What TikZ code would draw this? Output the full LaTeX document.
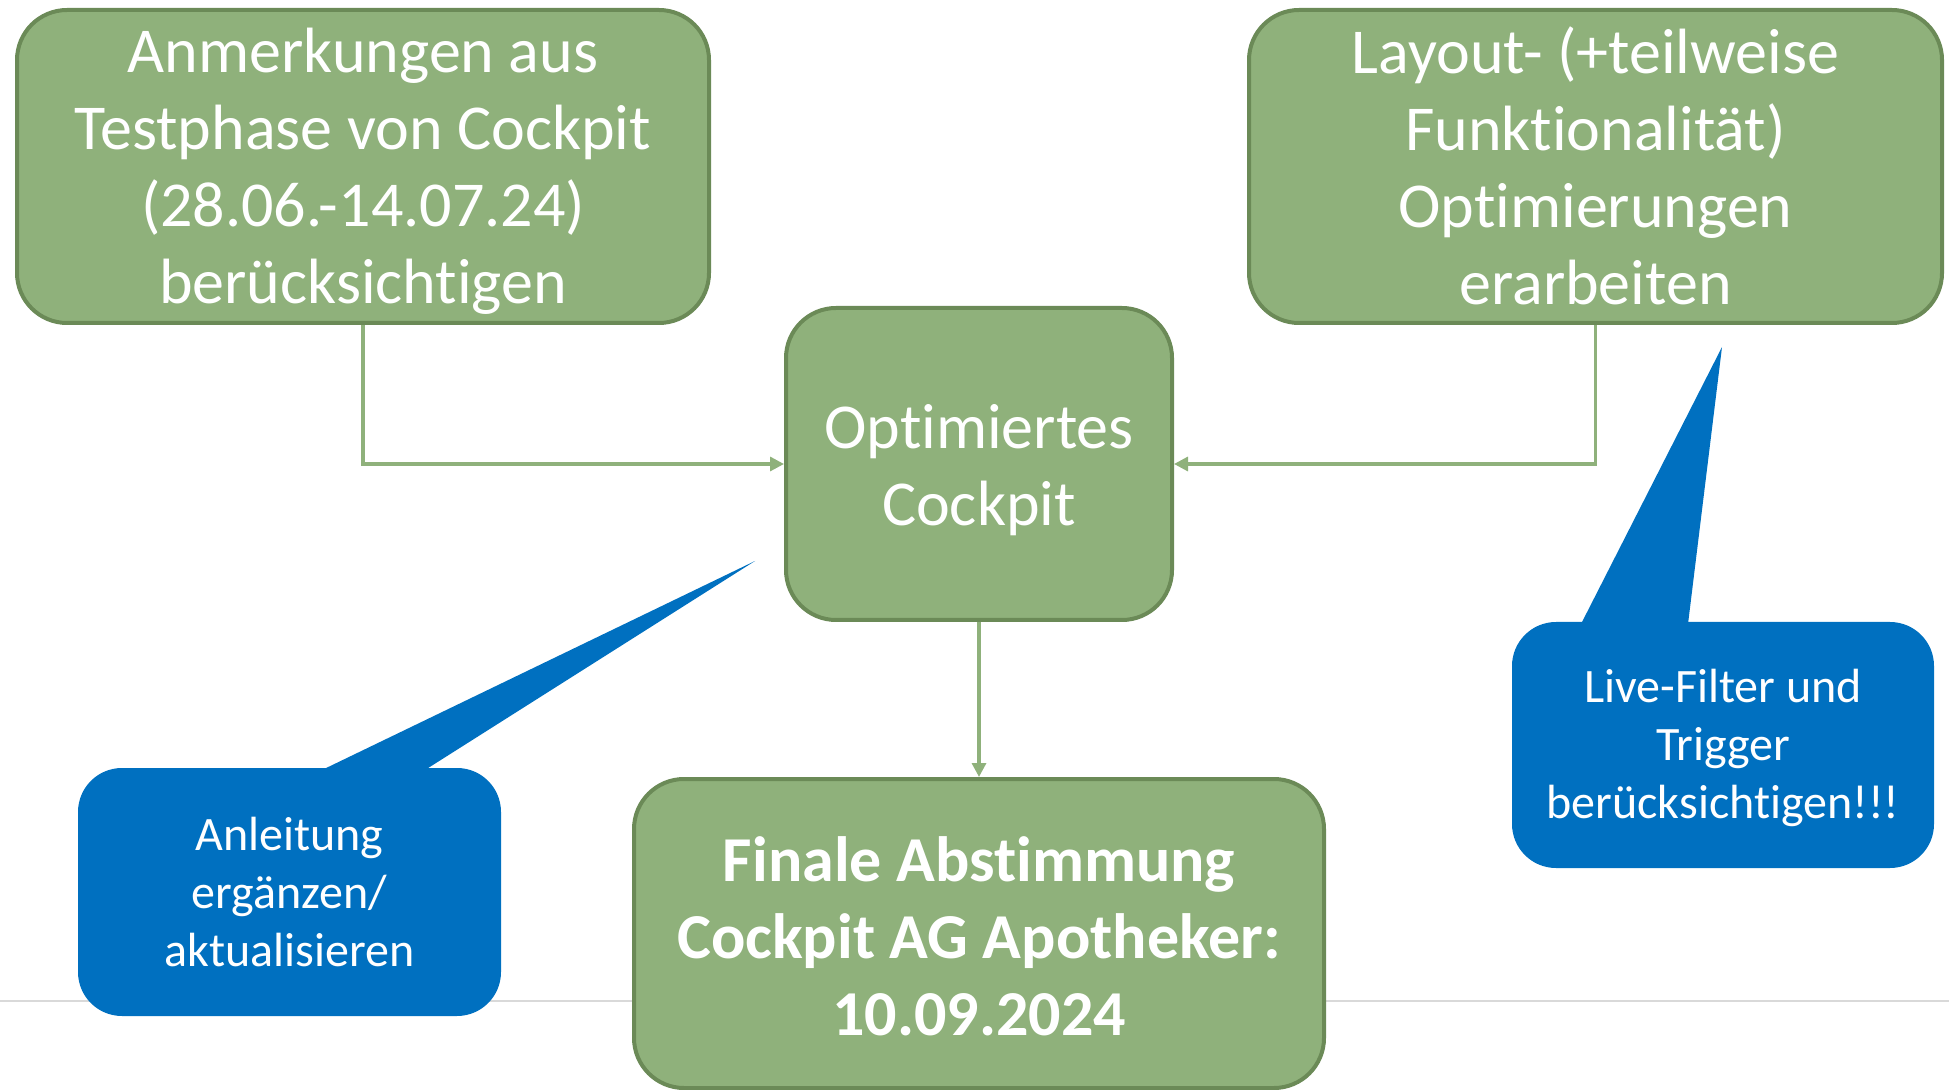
\documentclass[tikz,border=0pt]{standalone}
\usepackage{fontspec}
\setmainfont[Ligatures=CommonOff]{Carlito}
\usetikzlibrary{arrows.meta}
\definecolor{gfill}{HTML}{8FB17B}
\definecolor{gdraw}{HTML}{6B8A57}
\definecolor{gline}{HTML}{8FB17B}
\definecolor{cblue}{HTML}{0070C0}
\definecolor{lgray}{HTML}{D9D9D9}
\tikzset{
  gbox/.style={draw=gdraw, fill=gfill, line width=2pt, rounded corners=25pt, inner sep=0pt},
  gtext/.style={text=white, align=center, inner sep=0pt,
    font=\fontsize{32}{38.5}\selectfont},
  bbox/.style={fill=cblue, rounded corners=22pt, inner sep=0pt},
  btext/.style={text=white, align=center, inner sep=0pt,
    font=\fontsize{24}{29}\selectfont},
  conn/.style={draw=gline, line width=1.6pt, -{Triangle[length=7pt,width=7pt]}},
}
\begin{document}
\begin{tikzpicture}[x=0.5pt,y=-0.5pt]
\useasboundingbox (0,0) rectangle (1949,1090);
\draw[lgray, line width=1pt] (0,1001) -- (1949,1001);

\node[gbox, minimum width=692*0.5pt, minimum height=313*0.5pt] (tl) at (363,166.5) {};
\node[gtext, yshift=-2.5pt] (tlt) at (tl.center)
  {Anmerkungen aus\\Testphase von Cockpit\\(28.06.-14.07.24)\\berücksichtigen};
\node[gbox, minimum width=693*0.5pt, minimum height=313*0.5pt] (tr) at (1595.5,166.5) {};
\node[gtext, yshift=0.5pt] (trt) at (tr.center)
  {Layout- (+teilweise\\Funktionalität)\\Optimierungen\\erarbeiten};
\node[gbox, minimum width=386*0.5pt, minimum height=312*0.5pt] (c) at (979,464) {};
\node[gtext, yshift=-3pt] (ct) at (c.center) {Optimiertes\\Cockpit};
\node[gbox, minimum width=690*0.5pt, minimum height=309*0.5pt] (b) at (979,933.5) {};
\node[gtext, yshift=-1.25pt, font=\fontsize{32}{38.5}\selectfont\bfseries] (bt) at (b.center)
  {Finale Abstimmung\\Cockpit AG Apotheker:\\10.09.2024};

% callouts
\fill[cblue] (322,770) -- (755,561) -- (425,770) -- cycle;
\node[bbox, minimum width=423*0.5pt, minimum height=248*0.5pt] (bl) at (289.5,892) {};
\node[btext] (blt) at (bl.center) {Anleitung\\ergänzen/\\aktualisieren};
\fill[cblue] (1581,624) -- (1722,347) -- (1688,624) -- cycle;
\node[bbox, minimum width=422*0.5pt, minimum height=246*0.5pt] (br) at (1723,745) {};
\node[btext, yshift=-1.5pt] (brt) at (br.center) {Live-Filter und\\Trigger\\berücksichtigen!!!};

% connectors
\draw[conn] (tl.south) |- (c.west);
\draw[conn] (tr.south) |- (c.east);
\draw[conn] (c.south) -- (b.north);
\end{tikzpicture}
\end{document}
